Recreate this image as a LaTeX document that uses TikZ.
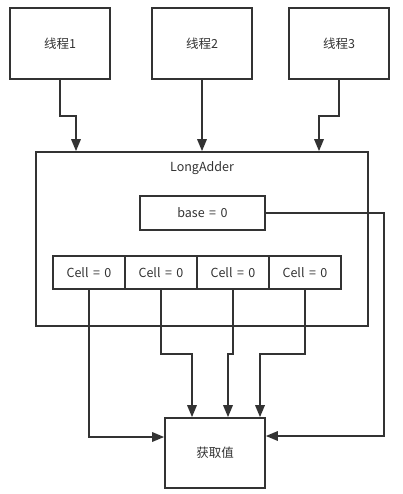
\documentclass[tikz,border=0pt]{standalone}
\usepackage{fontspec}
\newfontfamily\cjk[WordSpace=1.6]{Noto Sans CJK SC}
\usetikzlibrary{arrows.meta}
\definecolor{ink}{HTML}{333333}

\begin{document}
\begin{tikzpicture}[
    x=1pt, y=-1pt,
    line width=1.7pt, draw=ink, text=ink,
    font=\cjk\fontsize{12.5}{14}\selectfont,
    box/.style={draw, rectangle, inner sep=0},
    thread/.style={box, minimum width=100pt, minimum height=71pt},
    cell/.style={box, minimum width=72pt, minimum height=33pt},
    arrow/.style={-{Triangle[length=12pt, width=9.5pt]}},
  ]
  \useasboundingbox (0,0) rectangle (402,494);

  % thread nodes
  \node[thread] (t1) at (60,43.5) {线程1};
  \node[thread] (t2) at (202,43.5) {线程2};
  \node[thread] (t3) at (339,43.5) {线程3};

  % LongAdder with base and cells
  \node[box, minimum width=332pt, minimum height=174pt] (adder) at (202,239) {};
  \node (title) at (202,168) {LongAdder};
  \node[box, minimum width=125pt, minimum height=34pt] (base) at (202.5,213) {base = 0};
  \node[cell] (c1) at (89,272.5) {Cell = 0};
  \node[cell] (c2) at (161,272.5) {Cell = 0};
  \node[cell] (c3) at (233,272.5) {Cell = 0};
  \node[cell] (c4) at (305,272.5) {Cell = 0};

  % result node
  \node[box, minimum width=100pt, minimum height=70pt] (get) at (215,453) {获取值};

  % threads to LongAdder
  \draw[arrow] (t1.south) -- ++(0,36) -| ([xshift=-126pt]adder.north);
  \draw[arrow] (t2.south) -- (adder.north);
  \draw[arrow] (t3.south) -- ++(0,36) -| ([xshift=117pt]adder.north);

  % cells and base to result
  \draw[arrow] (c1.south) |- ([yshift=16pt]get.west);
  \draw[arrow] (c2.south) -- ++(0,64) -| ([xshift=-23pt]get.north);
  \draw[arrow] (c3.south) -- ++(0,64) -| ([xshift=13pt]get.north);
  \draw[arrow] (c4.south) -- ++(0,64) -| ([xshift=45pt]get.north);
  \draw[arrow] (base.east) -- ++(118,0) |- ([yshift=17pt]get.east);

\end{tikzpicture}
\end{document}
